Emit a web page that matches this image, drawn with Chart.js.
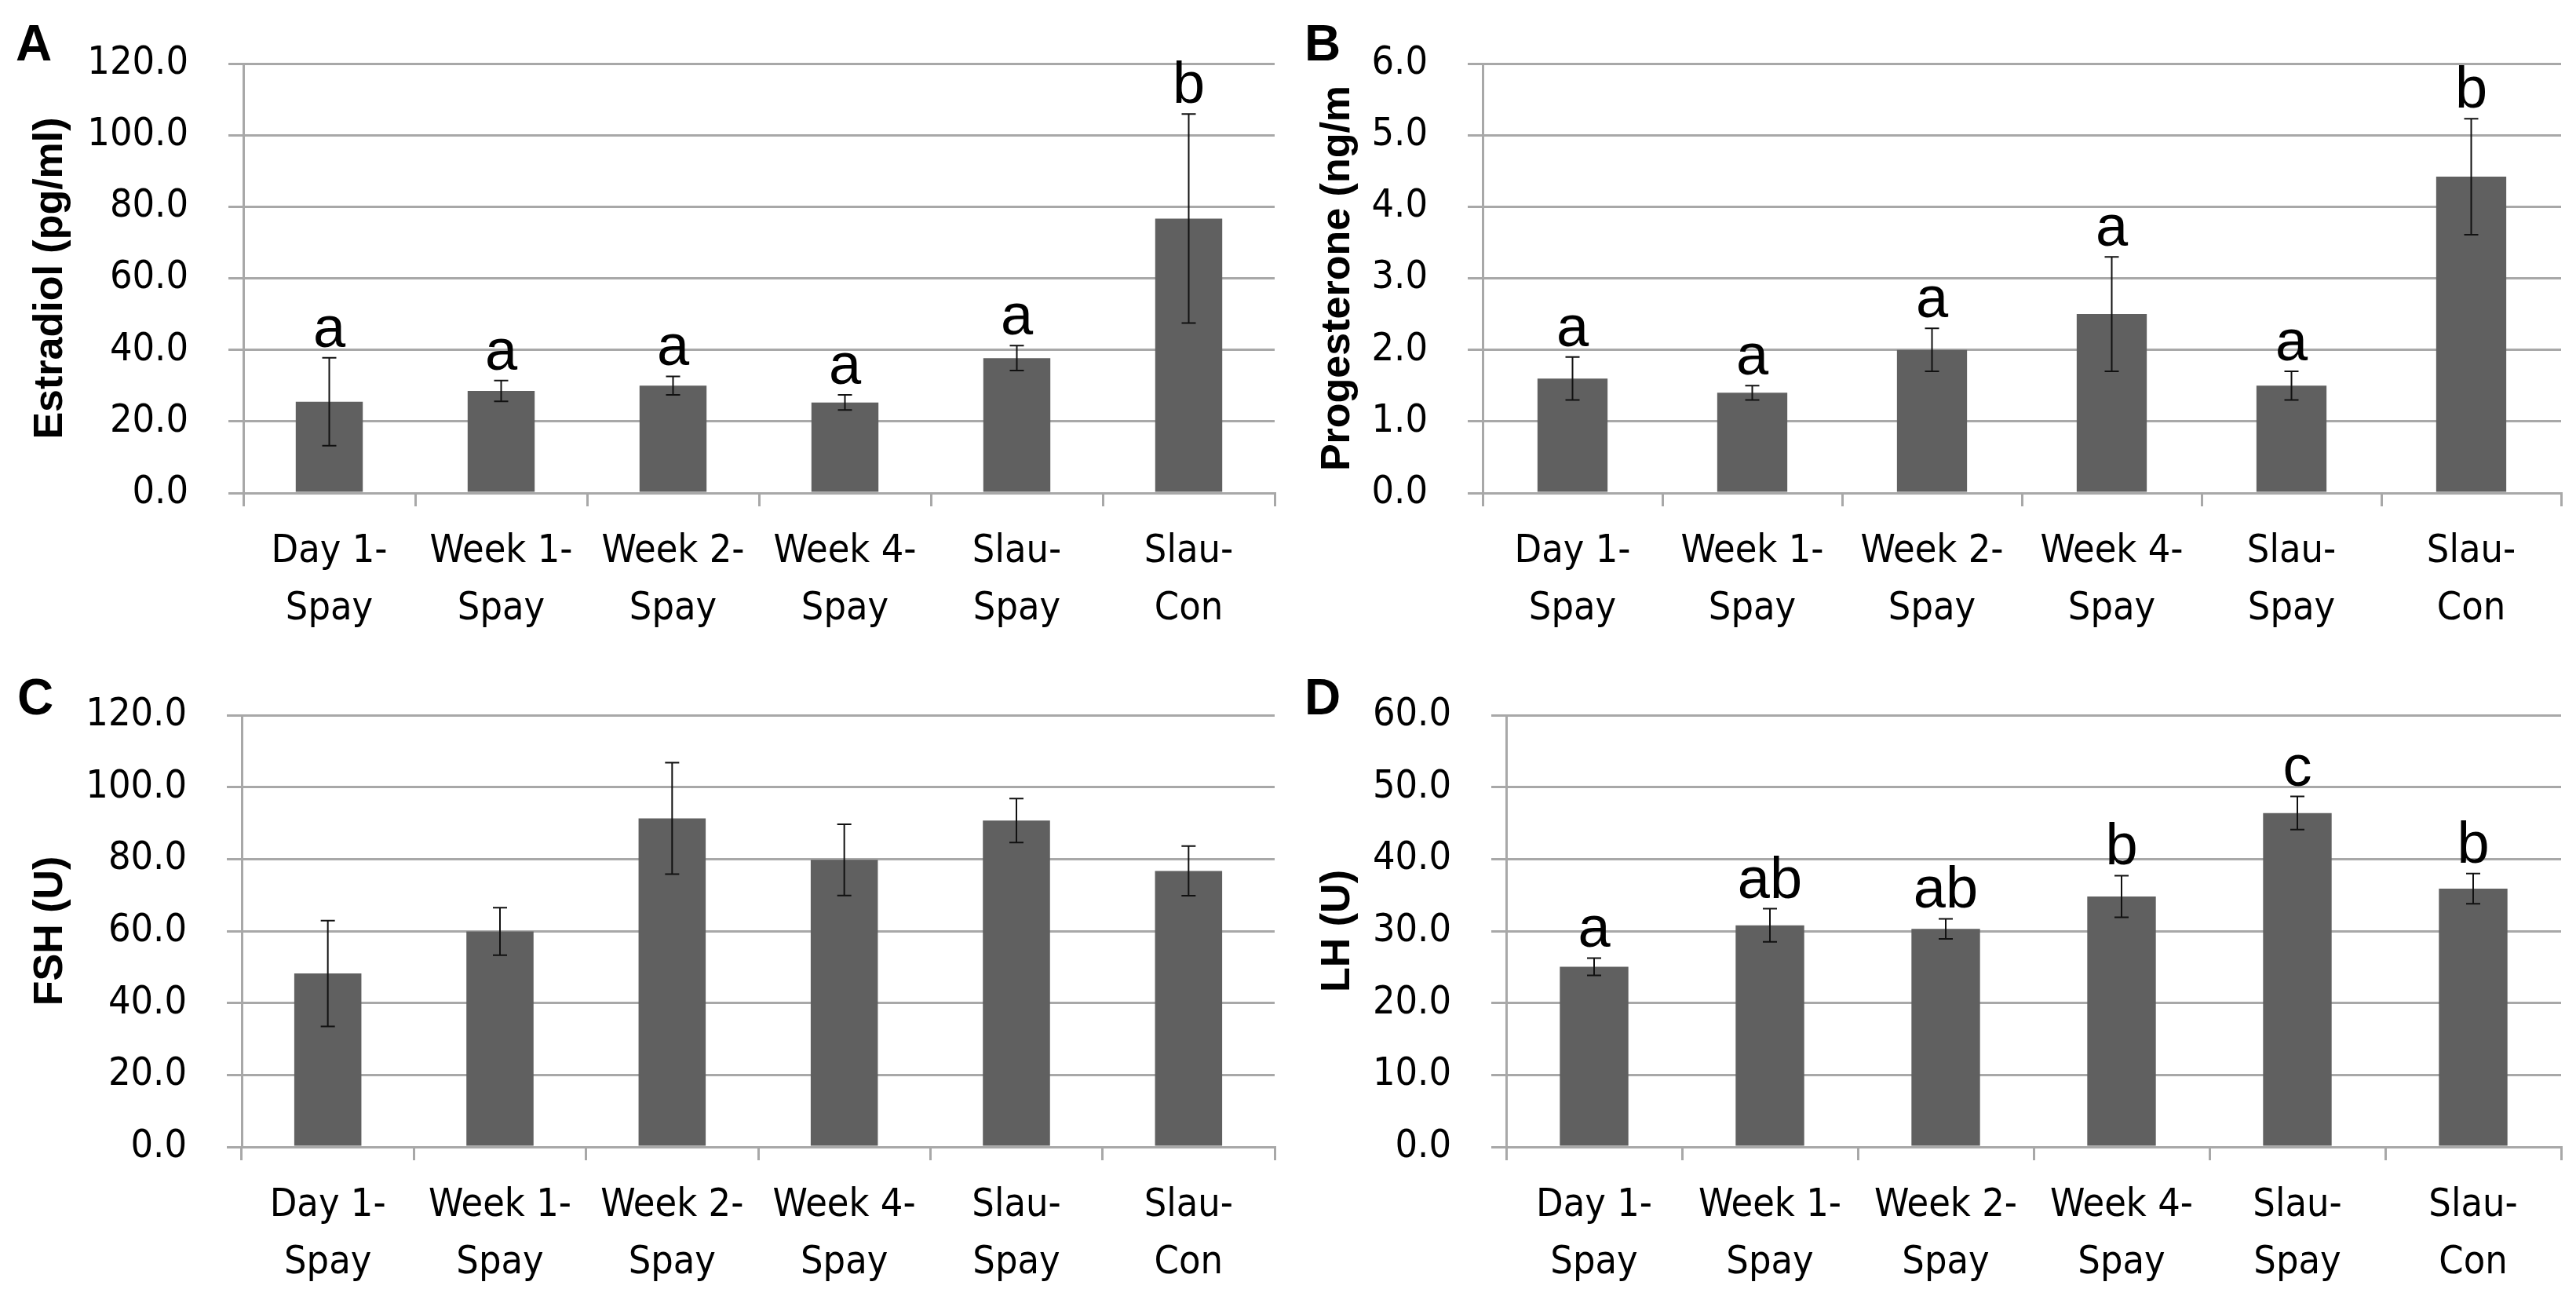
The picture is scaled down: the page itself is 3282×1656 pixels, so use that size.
<!DOCTYPE html>
<html>
<head>
<meta charset="utf-8">
<script src="https://cdn.jsdelivr.net/npm/chart.js@4.4.1/dist/chart.umd.min.js"></script>
<style>
  html, body { margin: 0; padding: 0; background: #ffffff; }
  body { width: 3282px; height: 1656px; position: relative; overflow: hidden; }
  canvas { position: absolute; }
</style>
</head>
<body>
<canvas id="cA" width="1640" height="830" style="left:0px;top:0px;"></canvas>
<canvas id="cB" width="1642" height="830" style="left:1640px;top:0px;"></canvas>
<canvas id="cC" width="1640" height="826" style="left:0px;top:830px;"></canvas>
<canvas id="cD" width="1642" height="826" style="left:1640px;top:830px;"></canvas>
<script>
// ---------- data ----------
const categories = [['Day 1-', 'Spay'], ['Week 1-', 'Spay'], ['Week 2-', 'Spay'], ['Week 4-', 'Spay'], ['Slau-', 'Spay'], ['Slau-', 'Con']];

const estradiolMean = [25.5, 28.5, 30.0, 25.3, 37.7, 76.7];
const estradiolErr = [12.3, 2.9, 2.6, 2.1, 3.5, 29.2];
const estradiolLetters = ['a', 'a', 'a', 'a', 'a', 'b'];

const progesteroneMean = [1.6, 1.4, 2.0, 2.5, 1.5, 4.42];
const progesteroneErr = [0.3, 0.1, 0.3, 0.8, 0.2, 0.81];
const progesteroneLetters = ['a', 'a', 'a', 'a', 'a', 'b'];

const fshMean = [48.2, 59.9, 91.3, 79.8, 90.7, 76.7];
const fshErr = [14.7, 6.6, 15.5, 9.9, 6.1, 6.9];
const fshLetters = [];

const lhMean = [25.05, 30.8, 30.3, 34.8, 46.4, 35.9];
const lhErr = [1.2, 2.3, 1.4, 2.9, 2.3, 2.1];
const lhLetters = ['a', 'ab', 'ab', 'b', 'c', 'b'];

const panelLetters = ['A', 'B', 'C', 'D'];
const yTitles = ['Estradiol (pg/ml)', 'Progesterone (ng/m', 'FSH (U)', 'LH (U)'];
const yMax = [120, 6, 120, 60];
const yStep = [20, 1, 20, 10];

// ---------- styling ----------
const TICK_FONT = "'DejaVu Sans Condensed', 'Liberation Sans', sans-serif";
const BOLD_FONT = "'Liberation Sans', Arial, sans-serif";
const GRID = '#a8a8a8';
const BAR = '#606060';

const errPlugin = {
  id: 'errbars',
  afterDatasetsDraw(chart, args, opts) {
    const ctx = chart.ctx;
    const meta = chart.getDatasetMeta(0);
    const ys = chart.scales.y;
    const means = opts.means, errs = opts.errs, letters = opts.letters || [];
    ctx.save();
    ctx.strokeStyle = '#111111';
    ctx.lineWidth = 2;
    meta.data.forEach((bar, i) => {
      const x = bar.x;
      const yt = ys.getPixelForValue(means[i] + errs[i]);
      const yb = ys.getPixelForValue(means[i] - errs[i]);
      ctx.beginPath();
      ctx.moveTo(x, yt); ctx.lineTo(x, yb);
      ctx.moveTo(x - 9, yt); ctx.lineTo(x + 9, yt);
      ctx.moveTo(x - 9, yb); ctx.lineTo(x + 9, yb);
      ctx.stroke();
      if (letters[i]) {
        ctx.fillStyle = '#000000';
        ctx.font = "74px " + BOLD_FONT;
        ctx.textAlign = 'center';
        ctx.textBaseline = 'alphabetic';
        ctx.fillText(letters[i], x, yt - 14);
      }
    });
    ctx.restore();
  },
  afterDraw(chart, args, opts) {
    const ctx = chart.ctx;
    ctx.save();
    ctx.fillStyle = '#000000';
    ctx.font = "bold 64px " + BOLD_FONT;
    ctx.textAlign = 'left';
    ctx.textBaseline = 'alphabetic';
    ctx.fillText(opts.panel, opts.px, opts.py);
    ctx.restore();
  }
};

function makeChart(id, idx, means, errs, letters, geo) {
  return new Chart(document.getElementById(id), {
    type: 'bar',
    data: {
      labels: categories,
      datasets: [{
        data: means,
        backgroundColor: BAR,
        borderWidth: 0,
        barPercentage: 0.39,
        categoryPercentage: 1.0
      }]
    },
    plugins: [errPlugin],
    options: {
      responsive: false,
      devicePixelRatio: 1,
      animation: false,
      layout: { padding: { top: geo.top, right: geo.right, left: 0, bottom: 0 } },
      plugins: {
        legend: { display: false },
        tooltip: { enabled: false },
        errbars: { means: means, errs: errs, letters: letters, panel: panelLetters[idx], px: geo.px, py: geo.py }
      },
      scales: {
        x: {
          afterFit(s) { s.height = geo.xh; },
          grid: { display: true, drawOnChartArea: false, drawTicks: true, tickLength: 17, color: GRID, lineWidth: 3, offset: true },
          border: { display: true, color: GRID, width: 3 },
          ticks: { color: '#000000', font: { family: TICK_FONT, size: 50, lineHeight: 1.46 }, padding: 22, maxRotation: 0, minRotation: 0, autoSkip: false }
        },
        y: {
          min: 0,
          max: yMax[idx],
          afterFit(s) { s.width = geo.yw; },
          grid: { color: GRID, lineWidth: 3, drawTicks: true, tickLength: 19 },
          border: { display: true, color: GRID, width: 3 },
          ticks: {
            stepSize: yStep[idx],
            color: '#000000',
            padding: 51,
            font: { family: TICK_FONT, size: 50 },
            callback: (v) => Number(v).toFixed(1)
          },
          title: {
            display: true,
            text: yTitles[idx],
            color: '#000000',
            font: { family: BOLD_FONT, size: 52, weight: 'bold', lineHeight: 1.2 },
            padding: { top: 33, bottom: 0 }
          }
        }
      }
    }
  });
}

makeChart('cA', 0, estradiolMean, estradiolErr, estradiolLetters, { top: 52, right: 16, yw: 310, xh: 202, px: 20, py: 77 });
makeChart('cB', 1, progesteroneMean, progesteroneErr, progesteroneLetters, { top: 52, right: 19, yw: 249, xh: 202, px: 22, py: 77 });
makeChart('cC', 2, fshMean, fshErr, fshLetters, { top: 56, right: 16, yw: 308, xh: 195, px: 22, py: 80 });
makeChart('cD', 3, lhMean, lhErr, lhLetters, { top: 55, right: 19, yw: 279, xh: 195, px: 22, py: 80 });
</script>
</body>
</html>
